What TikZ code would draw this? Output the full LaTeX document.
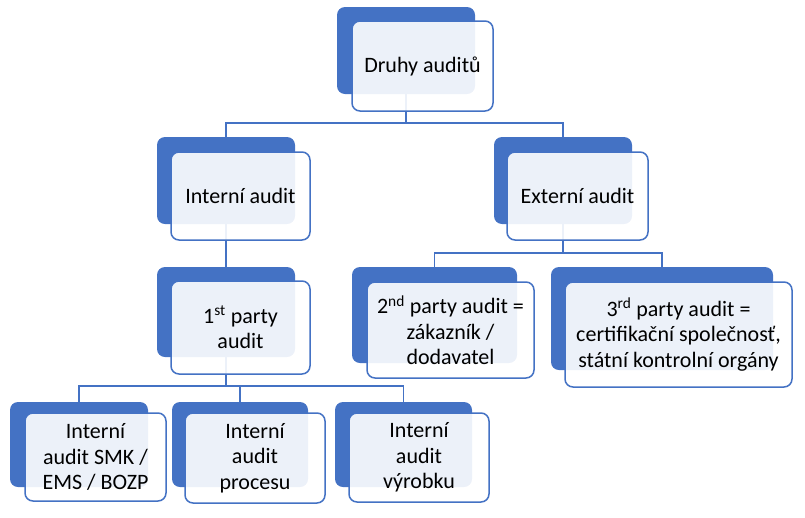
\documentclass[tikz,border=0pt]{standalone}
\usepackage{fontspec}
\setmainfont{Carlito}
\usepackage{xcolor}
\usetikzlibrary{positioning}
\definecolor{auditblue}{HTML}{4472C4}
\tikzset{
  back/.style={fill=auditblue, rounded corners=8pt, inner sep=0pt,
    minimum width=138pt, minimum height=87pt},
  front/.style={draw=auditblue, line width=1.5pt, fill=white, fill opacity=0.9,
    text opacity=1, rounded corners=8pt, inner sep=0pt, align=center,
    minimum width=141pt, minimum height=89pt,
    font=\fontsize{22}{25.5}\selectfont},
  link/.style={draw=auditblue, line width=1.6pt},
}
\begin{document}
\begin{tikzpicture}[x=1pt,y=-1pt]
\useasboundingbox (0,0) rectangle (805,517);

\node[back] (druhyB) at (406,50.5) {};
\node[back] (internB) at (226,180.5) {};
\node[back] (externB) at (563,180.5) {};
\node[back, minimum height=90pt] (firstB) at (226,312) {};
\node[back, minimum width=165pt, minimum height=96pt] (secondB) at (434.5,315) {};
\node[back, minimum width=222pt, minimum height=103pt] (thirdB) at (662,318.5) {};
\node[back, minimum height=85pt] (smkB) at (79,444.5) {};
\node[back, minimum width=136pt, minimum height=85pt] (procesB) at (240,444.5) {};
\node[back, minimum width=137pt, minimum height=85pt] (vyrobekB) at (403.5,444.5) {};

\draw[link] (druhyB.south) -- ++(0,29) -| (internB.north);
\draw[link] (druhyB.south) -- ++(0,29) -| (externB.north);
\draw[link] (internB.south) -- (firstB.north);
\draw[link] (externB.south) -- ++(0,29) -| (secondB.north);
\draw[link] (externB.south) -- ++(0,29) -| (thirdB.north);
\draw[link] (firstB.south) -- ++(0,29) -| (smkB.north);
\draw[link] (firstB.south) -- ++(0,29) -| (procesB.north);
\draw[link] (firstB.south) -- ++(0,29) -| (vyrobekB.north);

\node[front, minimum height=90pt] (druhy) at ([shift={(16.5,15.5)}]druhyB.center) {Druhy auditů};
\node[front, minimum width=139pt, minimum height=88pt] (intern) at ([shift={(14.5,15.5)}]internB.center) {Interní audit};
\node[front, minimum height=88pt] (extern) at ([shift={(14.5,15.5)}]externB.center) {Externí audit};
\node[front, minimum width=139pt, minimum height=93pt] (first) at ([shift={(14.5,15.5)}]firstB.center) {1\textsuperscript{st} party\\audit};
\node[front, minimum width=167pt, minimum height=96pt] (second) at ([shift={(16,15)}]secondB.center) {2\textsuperscript{nd} party audit =\\zákazník /\\dodavatel};
\node[front, minimum width=227pt, minimum height=105pt] (third) at ([shift={(16.5,16)}]thirdB.center) {3\textsuperscript{rd} party audit =\\certifikační společnosť,\\státní kontrolní orgány};
\node[front, minimum height=88pt] (smk) at ([shift={(16.5,12.5)}]smkB.center) {Interní\\audit SMK /\\EMS / BOZP};
\node[front, minimum width=140pt, minimum height=90pt] (proces) at ([shift={(15,13.5)}]procesB.center) {Interní\\audit\\procesu};
\node[front, minimum width=140pt] (vyrobek) at ([shift={(15.5,13)}]vyrobekB.center) {Interní\\audit\\výrobku};
\end{tikzpicture}
\end{document}
